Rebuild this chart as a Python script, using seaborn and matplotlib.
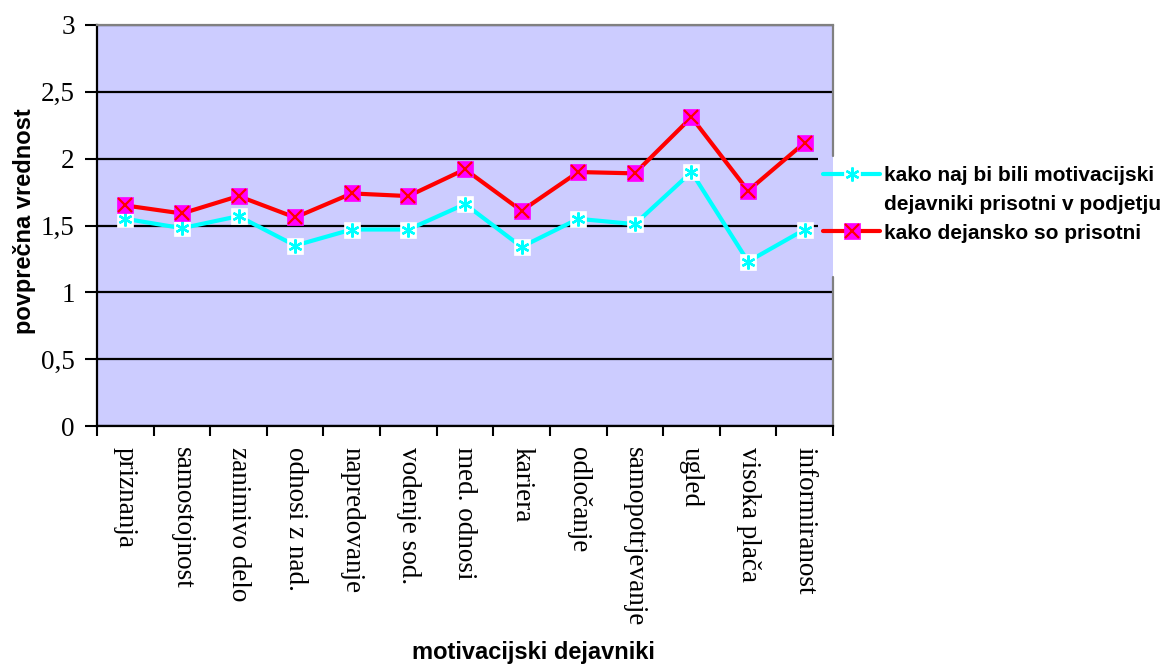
import numpy as np
import pandas as pd
import matplotlib
matplotlib.use("Agg")
import matplotlib.pyplot as plt
from matplotlib.lines import Line2D
from matplotlib.patches import Rectangle
from matplotlib.legend_handler import HandlerTuple
import seaborn as sns

# --- data -------------------------------------------------------------
categories = [
    "priznanja", "samostojnost", "zanimivo delo", "odnosi z nad.",
    "napredovanje", "vodenje sod.", "med. odnosi", "kariera",
    "odločanje", "samopotrjevanje", "ugled", "visoka plača", "informiranost",
]
ideal = [1.55, 1.48, 1.57, 1.35, 1.47, 1.47, 1.66, 1.34, 1.55, 1.51, 1.90, 1.23, 1.47]
actual = [1.65, 1.59, 1.72, 1.56, 1.74, 1.72, 1.92, 1.61, 1.90, 1.89, 2.31, 1.76, 2.12]

ideal_label_lines = ["kako naj bi bili motivacijski", "dejavniki prisotni v podjetju"]
actual_label = "kako dejansko so prisotni"
y_ticks = [0, 0.5, 1, 1.5, 2, 2.5, 3]
y_tick_labels = ["0", "0,5", "1", "1,5", "2", "2,5", "3"]
x_title = "motivacijski dejavniki"
y_title = "povprečna vrednost"

# --- style ------------------------------------------------------------
sns.set_style("white")
plt.rcParams["font.family"] = ["Liberation Sans", "DejaVu Sans"]
plt.rcParams.update({
    "text.color": "black",
    "axes.labelcolor": "black",
    "xtick.color": "black",
    "ytick.color": "black",
})
SERIF = ["Liberation Serif", "DejaVu Serif"]

CYAN = "#00FFFF"
RED = "#FF0000"
MAGENTA = "#FF00FF"
PLOT_BG = "#CCCCFF"
FRAME_GRAY = "#808080"

W, H = 1168, 664
fig = plt.figure(figsize=(W / 100, H / 100), dpi=100)
ax = fig.add_axes([97 / W, 1 - 426 / H, 736 / W, 401 / H])
ax.set_facecolor(PLOT_BG)

df = pd.DataFrame({"dejavnik": categories, "ideal": ideal, "actual": actual})

# ideal series: cyan line, white square with cyan asterisk
sns.lineplot(data=df, x="dejavnik", y="ideal", ax=ax, sort=False, color=CYAN,
             lw=3, marker="s", markersize=12, markerfacecolor="white",
             mec="white", mew=0.5, zorder=3)
sns.lineplot(data=df, x="dejavnik", y="ideal", ax=ax, sort=False, color=CYAN,
             linestyle="none", marker=(6, 2, 0), markersize=10,
             mec=CYAN, mew=1.7, zorder=4)
# actual series: red line, magenta square with red cross
sns.lineplot(data=df, x="dejavnik", y="actual", ax=ax, sort=False, color=RED,
             lw=3, marker="s", markersize=12, markerfacecolor=MAGENTA,
             mec=MAGENTA, mew=0.5, zorder=5)
sns.lineplot(data=df, x="dejavnik", y="actual", ax=ax, sort=False, color=RED,
             linestyle="none", marker="x", markersize=10,
             mec=RED, mew=1.6, zorder=6)

n = len(categories)
ax.set_xlim(-0.5, n - 0.5)
ax.set_ylim(0, 3)

# x axis: tick marks between categories, labels under the categories
ax.set_xticks(np.arange(-0.5, n), labels=[""] * (n + 1))
ax.set_xticks(np.arange(n), labels=categories, minor=True)
ax.tick_params(axis="x", which="major", direction="out", length=7, width=1.5,
               color="black", bottom=True)
ax.tick_params(axis="x", which="minor", length=0, pad=15, bottom=True)
for lbl in ax.get_xticklabels(minor=True):
    lbl.set_fontfamily(SERIF)
    lbl.set_fontsize(19.5)
    lbl.set_rotation(-90)
    lbl.set_ha("center")
    lbl.set_va("top")
    lbl.set_color("black")

# y axis
ax.set_yticks(y_ticks, labels=y_tick_labels)
ax.tick_params(axis="y", direction="out", length=9, width=1.5, pad=7,
               color="black", left=True)
for lbl in ax.get_yticklabels():
    lbl.set_fontfamily(SERIF)
    lbl.set_fontsize(19.5)
    lbl.set_color("black")

ax.set_axisbelow(True)
ax.yaxis.grid(True, color="black", lw=1.6)
ax.xaxis.grid(False)

for side in ("left", "bottom"):
    ax.spines[side].set_color("black")
    ax.spines[side].set_linewidth(1.6)
ax.spines["top"].set_color(FRAME_GRAY)
ax.spines["top"].set_linewidth(1.6)
ax.spines["right"].set_visible(False)

# right frame edge, interrupted where the legend sits
gap_lo, gap_hi = (426 - 277) / 401, (426 - 156) / 401
ax.axvline(n - 0.5, ymin=0, ymax=gap_lo, color=FRAME_GRAY, lw=1.6, clip_on=False)
ax.axvline(n - 0.5, ymin=gap_hi, ymax=1, color=FRAME_GRAY, lw=1.6, clip_on=False)
ax.add_patch(Rectangle(((818 - 97) / 736, gap_lo), 1.0, gap_hi - gap_lo,
                       transform=ax.transAxes, facecolor=PLOT_BG,
                       edgecolor="none", zorder=1.5))

# axis titles
ax.set_xlabel(x_title, fontsize=17, fontweight="bold", va="center", color="black")
ax.xaxis.set_label_coords((533 - 97) / 736, (426 - 652) / 401)
ax.set_ylabel(y_title, fontsize=17, fontweight="bold", va="center", color="black")
ax.yaxis.set_label_coords((24 - 97) / 736, (426 - 221) / 401)

# legend
h_ideal = (
    Line2D([], [], color=CYAN, lw=3, marker="s", markersize=12,
           markerfacecolor="white", mec="white", mew=0.5),
    Line2D([], [], linestyle="none", marker=(6, 2, 0), markersize=10,
           mec=CYAN, mew=1.7),
)
h_actual = (
    Line2D([], [], color=RED, lw=3, marker="s", markersize=12,
           markerfacecolor=MAGENTA, mec=MAGENTA, mew=0.5),
    Line2D([], [], linestyle="none", marker="x", markersize=10,
           mec=RED, mew=1.6),
)
h_blank = Line2D([], [], linestyle="none", alpha=0)
leg = fig.legend(handles=[h_ideal, h_blank, h_actual],
                 labels=[ideal_label_lines[0], ideal_label_lines[1], actual_label],
                 handler_map={tuple: HandlerTuple(ndivide=1)},
                 loc="upper left", bbox_to_anchor=(823 / W, 1 - 166 / H),
                 frameon=False, borderpad=0, borderaxespad=0,
                 handlelength=2.75, handletextpad=0.2, labelspacing=0.47,
                 prop={"weight": "bold", "size": 15})
for t in leg.get_texts():
    t.set_color("black")

fig.savefig("out.png", dpi=100)
